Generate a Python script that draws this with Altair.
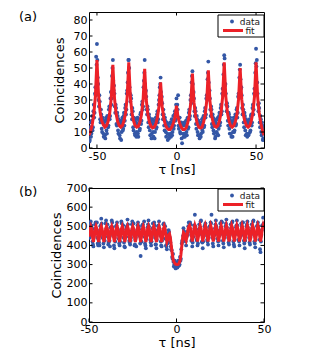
import altair as alt
import pandas as pd
import numpy as np

# ---------------- Panel (a) ----------------
# measured counts, bins at x = -55 + 0.5*i
A_DATA1 = [
    12, 5, 16, 9, 20, 13, 27, 22, 38, 57,
    65, 44, 30, 33, 18, 24, 12, 19, 9, 16,
    8, 17, 11, 20, 13, 24, 18, 31, 27, 45,
    55, 36, 34, 22, 25, 14, 20, 9, 17, 6,
    15, 10, 19, 12, 22, 17, 27, 24, 36, 47,
    55, 38, 29, 31, 18, 23, 11, 18, 8, 16,
    10, 19, 7, 17, 12, 22, 17, 29, 26, 42,
    55, 35, 32, 21, 24, 13, 19, 8, 16, 9,
    18, 7, 15, 10, 19, 13, 23, 18, 30, 38,
    44, 29, 28, 18, 21, 11, 17, 7, 14, 5,
    13, 8, 16, 7, 18, 10, 20, 14, 23, 18,
    31, 27, 33, 12, 19, 9, 16, 3, 14, 7,
    16, 9, 17, 8, 19, 13, 24, 20, 33, 41,
    48, 34, 31, 20, 23, 12, 18, 8, 16, 6,
    14, 9, 18, 10, 20, 14, 25, 21, 33, 43,
    54, 36, 31, 20, 24, 13, 19, 9, 17, 7,
    15, 9, 19, 12, 22, 16, 27, 23, 37, 46,
    58, 39, 34, 23, 26, 14, 21, 9, 17, 7,
    15, 10, 19, 11, 21, 15, 25, 22, 34, 44,
    52, 37, 33, 21, 24, 13, 20, 8, 17, 7,
    15, 9, 18, 11, 21, 16, 27, 24, 37, 47,
    62, 55, 34, 23, 25, 13, 18, 8, 14, 6,
    11,
]
A_DATA1_START, A_DATA1_STEP = -55.0, 0.5

# measured counts, bins at x = -54.75 + 0.5*i
A_DATA2 = [
    4, 13, 7, 17, 11, 23, 19, 34, 33, 52,
    55, 40, 26, 29, 16, 21, 10, 18, 7, 14,
    6, 19, 9, 18, 14, 26, 20, 35, 31, 50,
    42, 39, 26, 27, 15, 22, 11, 18, 8, 16,
    5, 17, 11, 20, 14, 25, 21, 34, 41, 55,
    50, 34, 33, 21, 25, 13, 19, 9, 18, 7,
    15, 9, 18, 11, 21, 15, 27, 24, 38, 47,
    40, 36, 24, 26, 16, 21, 11, 18, 6, 15,
    10, 17, 6, 17, 12, 21, 16, 27, 33, 40,
    35, 32, 21, 24, 14, 19, 10, 16, 9, 15,
    6, 13, 9, 15, 8, 17, 12, 21, 17, 27,
    22, 24, 14, 19, 10, 15, 6, 14, 9, 15,
    7, 14, 10, 18, 12, 22, 18, 30, 28, 45,
    40, 35, 23, 25, 15, 20, 10, 17, 8, 15,
    7, 16, 11, 19, 13, 23, 19, 31, 30, 47,
    41, 36, 24, 26, 15, 21, 11, 18, 6, 16,
    10, 18, 8, 20, 14, 25, 21, 34, 33, 52,
    56, 40, 27, 28, 17, 22, 12, 19, 9, 16,
    7, 17, 10, 19, 14, 24, 19, 32, 31, 49,
    43, 38, 25, 27, 16, 22, 11, 18, 9, 16,
    8, 17, 10, 20, 14, 25, 21, 34, 33, 53,
    51, 41, 27, 28, 16, 20, 10, 16, 5, 12,
]
A_DATA2_START, A_DATA2_STEP = -54.75, 0.5

# fit curve, x = -55 + 1*i
A_FIT = [
    8, 10.5, 14.5, 21, 32, 55, 33, 22.5, 17, 14.5,
    13, 14, 16.5, 21.5, 31.5, 52, 31.5, 21.5, 16.5, 14,
    13, 14, 17, 22, 32, 53.5, 32, 22, 17, 14,
    13, 13.5, 16, 21, 30, 49.5, 30, 21, 16, 13.5,
    12.5, 13, 15, 19, 26, 41, 26, 18.5, 14.5, 12.5,
    11.5, 11.5, 13, 15.5, 19, 26.5, 19, 15.5, 13, 11.5,
    11.5, 12.5, 15.5, 20, 28.5, 46.5, 28.5, 20, 15.5, 13,
    12.5, 13, 16, 20.5, 29.5, 48.5, 29.5, 20.5, 16, 13.5,
    13, 14, 17, 22, 32, 53.5, 32, 22, 17, 14,
    13, 14, 16.5, 21, 30.5, 50, 30.5, 21, 16.5, 14,
    13, 14, 17, 22, 32, 53.5, 32, 21.5, 15.5, 11,
    8,
]
A_FIT_START, A_FIT_STEP = -55.0, 1.0

A_XDOMAIN = [-55, 55]
A_YDOMAIN = [0, 85]
A_XTICKS = [-50, 0, 50]
A_YTICKS = [0, 10, 20, 30, 40, 50, 60, 70, 80]

# ---------------- Panel (b) ----------------
# measured counts, bins at x = -50 + 0.5*i
B_DATA1 = [
    470, 455, 525, 505, 420, 395, 465, 510, 480, 520,
    410, 430, 400, 500, 540, 470, 455, 390, 425, 515,
    490, 510, 405, 440, 395, 470, 530, 495, 465, 385,
    420, 500, 520, 460, 435, 400, 460, 525, 485, 505,
    415, 390, 470, 495, 535, 470, 425, 405, 440, 510,
    490, 515, 400, 430, 395, 480, 520, 500, 460, 345,
    420, 505, 485, 525, 410, 385, 465, 495, 530, 470,
    430, 400, 450, 515, 490, 505, 405, 385, 470, 500,
    525, 465, 420, 395, 440, 510, 485, 500, 400, 380,
    415, 480, 445, 415, 380, 340, 355, 290, 320, 280,
    310, 285, 320, 295, 340, 330, 410, 420, 490, 445,
    455, 400, 470, 455, 520, 485, 510, 425, 395, 465,
    505, 560, 470, 430, 400, 455, 510, 490, 530, 420,
    385, 470, 500, 515, 475, 430, 405, 460, 500, 520,
    560, 440, 395, 465, 490, 530, 480, 435, 400, 450,
    515, 490, 520, 425, 390, 470, 500, 535, 470, 440,
    405, 455, 510, 495, 525, 420, 395, 465, 495, 530,
    475, 430, 400, 450, 515, 490, 520, 425, 385, 470,
    500, 525, 480, 440, 405, 455, 510, 495, 530, 420,
    390, 465, 500, 520, 475, 430, 365, 455, 505, 545,
    510,
]
B_DATA1_START, B_DATA1_STEP = -50.0, 0.5

# measured counts, bins at x = -49.75 + 0.5*i
B_DATA2 = [
    440, 510, 475, 490, 405, 450, 485, 520, 470, 440,
    400, 415, 480, 505, 515, 440, 410, 455, 460, 530,
    480, 445, 415, 425, 495, 475, 520, 450, 400, 440,
    470, 505, 490, 455, 410, 420, 480, 515, 470, 440,
    395, 450, 485, 500, 510, 445, 415, 425, 475, 525,
    480, 455, 405, 440, 460, 505, 495, 450, 410, 420,
    485, 510, 470, 445, 400, 435, 470, 510, 500, 455,
    415, 420, 490, 475, 520, 440, 405, 430, 480, 505,
    490, 450, 400, 425, 470, 515, 480, 435, 395, 410,
    460, 470, 435, 395, 375, 330, 315, 300, 295, 285,
    305, 290, 315, 300, 320, 380, 425, 450, 475, 430,
    420, 445, 460, 500, 495, 520, 470, 430, 415, 445,
    490, 500, 485, 425, 410, 465, 490, 525, 460, 415,
    420, 450, 505, 495, 465, 420, 440, 475, 490, 515,
    470, 410, 435, 455, 510, 500, 470, 420, 425, 480,
    495, 525, 460, 410, 440, 455, 515, 495, 475, 415,
    430, 470, 490, 520, 465, 405, 430, 460, 505, 505,
    460, 420, 440, 470, 500, 520, 455, 410, 425, 465,
    510, 495, 470, 415, 440, 475, 490, 525, 465, 410,
    430, 460, 505, 500, 470, 380, 420, 480, 500, 515,
]
B_DATA2_START, B_DATA2_STEP = -49.75, 0.5

# fit curve, x = -50 + 0.5*i
B_FIT = [
    445, 485, 500, 485, 445, 418, 445, 485, 500, 485,
    445, 418, 445, 485, 500, 485, 445, 418, 445, 485,
    500, 485, 445, 418, 445, 485, 500, 485, 445, 418,
    445, 485, 500, 485, 445, 418, 445, 485, 500, 485,
    445, 418, 445, 485, 500, 485, 445, 418, 445, 485,
    500, 485, 445, 418, 445, 485, 500, 485, 445, 418,
    445, 485, 500, 485, 445, 418, 445, 485, 500, 485,
    445, 418, 445, 485, 500, 485, 445, 418, 445, 485,
    500, 485, 445, 418, 445, 485, 500, 485, 445, 418,
    430, 455, 460, 440, 400, 360, 330, 315, 308, 302,
    300, 300, 302, 308, 320, 350, 395, 440, 468, 462,
    435, 425, 445, 480, 498, 505, 490, 450, 420, 445,
    485, 505, 490, 450, 420, 445, 485, 505, 490, 450,
    420, 445, 485, 505, 490, 450, 420, 445, 485, 505,
    490, 450, 420, 445, 485, 505, 490, 450, 420, 445,
    485, 505, 490, 450, 420, 445, 485, 505, 490, 450,
    420, 445, 485, 505, 490, 450, 420, 445, 485, 505,
    490, 450, 420, 445, 485, 505, 490, 450, 420, 445,
    485, 505, 490, 450, 420, 445, 485, 505, 490, 450,
    420, 445, 485, 505, 490, 450, 420, 445, 485, 505,
    490,
]
B_FIT_START, B_FIT_STEP = -50.0, 0.5

B_XDOMAIN = [-50, 50]
B_YDOMAIN = [0, 700]
B_XTICKS = [-50, 0, 50]
B_YTICKS = [0, 100, 200, 300, 400, 500, 600, 700]

LEGEND_LABELS = ["data", "fit"]
PANEL_LABELS = ["(a)", "(b)"]

BLUE = "#3457a6"
RED = "#ec2128"
FONT = "DejaVu Sans"
W = 175
TICK = 3.5


def series(values, start, step):
    t = start + step * np.arange(len(values))
    return pd.DataFrame({"t": t, "v": values})


def panel(label, d1, d2, fit, xdom, ydom, xticks, yticks, H,
          ytitle_pad, xlabel_pad, xtitle_pad, legend_top, label_y):
    xs = alt.Scale(domain=xdom, nice=False, zero=False)
    ys = alt.Scale(domain=ydom, nice=False, zero=False)
    xax = alt.Axis(values=xticks, title="τ [ns]", ticks=False, domain=False, grid=False,
                   labelPadding=xlabel_pad, titlePadding=xtitle_pad, labelFlush=False,
                   labelExpr="replace(datum.label, '\u2212', '-')")
    yax = alt.Axis(values=yticks, title="Coincidences", ticks=False, domain=False, grid=False,
                   labelPadding=2, titlePadding=ytitle_pad, labelOverlap=False)
    X = alt.X("t:Q", scale=xs, axis=xax)
    Y = alt.Y("v:Q", scale=ys, axis=yax)

    data = pd.concat([d1, d2], ignore_index=True)
    pts = alt.Chart(data).mark_circle(size=15, color=BLUE, opacity=1, clip=True).encode(x=X, y=Y)
    line = alt.Chart(fit).mark_line(color=RED, strokeWidth=3, clip=True).encode(x=X, y=Y)

    xt = pd.DataFrame({"t": xticks})
    yt = pd.DataFrame({"v": yticks})
    tb = alt.Chart(xt).mark_rule(color="black", strokeWidth=1).encode(x=X, y=alt.value(H), y2=alt.value(H - TICK))
    tt = alt.Chart(xt).mark_rule(color="black", strokeWidth=1).encode(x=X, y=alt.value(0), y2=alt.value(TICK))
    tl = alt.Chart(yt).mark_rule(color="black", strokeWidth=1).encode(y=Y, x=alt.value(0), x2=alt.value(TICK))
    tr = alt.Chart(yt).mark_rule(color="black", strokeWidth=1).encode(y=Y, x=alt.value(W - TICK), x2=alt.value(W))

    one = pd.DataFrame({"k": [0]})
    lt = legend_top
    box = alt.Chart(one).mark_rect(fill="white", stroke="black", strokeWidth=1).encode(
        x=alt.value(W - 46), x2=alt.value(W), y=alt.value(lt), y2=alt.value(lt + 22))
    ldot = alt.Chart(one).mark_circle(size=15, color=BLUE, opacity=1).encode(
        x=alt.value(W - 32), y=alt.value(lt + 6.5))
    lline = alt.Chart(one).mark_rule(color=RED, strokeWidth=3).encode(
        x=alt.value(W - 41), x2=alt.value(W - 21), y=alt.value(lt + 15.5))
    ltext = alt.Chart(pd.DataFrame({"label": LEGEND_LABELS, "row": [0, 1]})).transform_calculate(
        py=f"{lt + 6.5} + datum.row * 9"
    ).mark_text(font=FONT, fontSize=9, color="#222", align="center", baseline="middle").encode(
        x=alt.value(W - 14), y=alt.Y("py:Q", scale=None, axis=None), text="label:N")

    ptxt = alt.Chart(pd.DataFrame({"label": [label]})).mark_text(
        font=FONT, fontSize=13, align="left", baseline="top", color="black").encode(
        x=alt.value(-70), y=alt.value(label_y), text="label:N")

    return alt.layer(pts, line, tb, tt, tl, tr, box, ldot, lline, ltext, ptxt).properties(width=W, height=H)


a = panel(PANEL_LABELS[0], series(A_DATA1, A_DATA1_START, A_DATA1_STEP),
          series(A_DATA2, A_DATA2_START, A_DATA2_STEP), series(A_FIT, A_FIT_START, A_FIT_STEP),
          A_XDOMAIN, A_YDOMAIN, A_XTICKS, A_YTICKS, 136, 7, 2, 2, 3, -1)
b = panel(PANEL_LABELS[1], series(B_DATA1, B_DATA1_START, B_DATA1_STEP),
          series(B_DATA2, B_DATA2_START, B_DATA2_STEP), series(B_FIT, B_FIT_START, B_FIT_STEP),
          B_XDOMAIN, B_YDOMAIN, B_XTICKS, B_YTICKS, 134, 3, 1, 2, 1, -2)

chart = alt.vconcat(a, b, spacing=4).properties(
    padding={"left": 10, "top": 2, "right": 5, "bottom": 0},
    background="white",
).configure_view(stroke="black", strokeWidth=1).configure_axis(
    labelFont=FONT, labelFontSize=11, labelColor="black",
    titleFont=FONT, titleFontSize=13, titleFontWeight="normal", titleColor="black"
)

chart.save("out.html", embed_options={"renderer": "svg", "actions": False})
